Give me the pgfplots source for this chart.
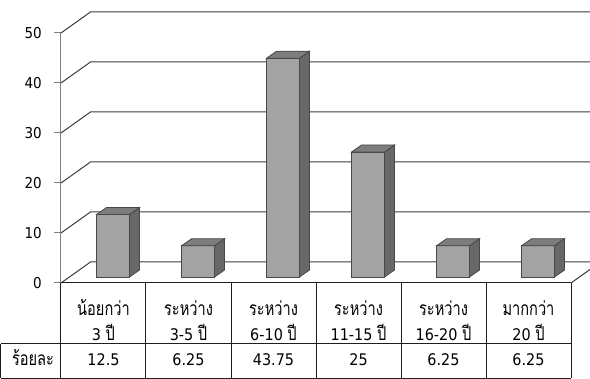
\documentclass[border=0pt]{standalone}
\usepackage{pgfplots}
\pgfplotsset{compat=1.18}
\usepackage{pgfplotstable}
\usepackage{fontspec}
\setmainfont{DejaVu Sans}[FakeStretch=0.9]
\newfontfamily\thai[Script=Thai, Scale=1.2, FakeStretch=0.76]{Loma}
\newcommand\tht[1]{{\thai #1}}

\definecolor{barfront}{RGB}{163,163,163}
\definecolor{barside}{RGB}{104,104,104}
\definecolor{bartop}{RGB}{125,125,125}
\definecolor{baredge}{RGB}{72,72,72}
\definecolor{gridc}{RGB}{60,60,60}
\definecolor{rulec}{RGB}{30,30,30}

% share of respondents by years of work
\pgfplotstableread{
idx v
0 12.5
1 6.25
2 43.75
3 25
4 6.25
5 6.25
}\share

% depth of the wall box and of each bar, in axis units
\def\wdx{0.347}\def\wdy{4.2}
\def\bdx{0.118}\def\bdy{1.4}

\newcommand\tkf{\fontsize{15}{18}\selectfont}
\newcommand\tbl{\fontsize{16}{25}\selectfont}
\newcommand\fl{\rule{0pt}{18pt}}

\begin{document}
\begin{tikzpicture}
\begin{axis}[
  x=85pt, y=5pt,
  xmin=-0.5, xmax=5.5, ymin=0, ymax=50,
  axis x line*=bottom,
  axis y line*=left,
  x axis line style={draw=none},
  y axis line style={draw=gray, line width=1pt},
  xtick={0,...,5},
  xticklabels={
    {\fl\tht{น้อยกว่า}\\3 \tht{ปี}},
    {\fl\tht{ระหว่าง}\\3-5 \tht{ปี}},
    {\fl\tht{ระหว่าง}\\6-10 \tht{ปี}},
    {\fl\tht{ระหว่าง}\\11-15 \tht{ปี}},
    {\fl\tht{ระหว่าง}\\16-20 \tht{ปี}},
    {\fl\tht{มากกว่า}\\20 \tht{ปี}}},
  xtick style={draw=none},
  xticklabel style={font=\tbl, align=center, anchor=north, inner sep=0pt, yshift=-7pt},
  ytick={0,10,...,50},
  tick align=outside,
  major tick length=7pt,
  ytick style={draw=gray, line width=1pt},
  yticklabel style={font=\tkf, text=black, inner sep=0pt, xshift=-12pt},
  /pgf/number format/assume math mode=true,
  clip=false,
]
% back and side walls with their grid lines
\pgfplotsinvokeforeach{0,10,...,50}{
  \draw[gridc, line width=1pt] (axis cs:-0.5,#1) -- (axis cs:-0.5+\wdx,#1+\wdy) -- (axis cs:5.5+\wdx,#1+\wdy);
}
\draw[gridc, line width=1pt] (axis cs:5.5,0) -- (axis cs:5.5+\wdx,\wdy);

% 3-D bars: front, side and top faces
\pgfplotsinvokeforeach{0,...,5}{
  \pgfplotstablegetelem{#1}{v}\of\share
  \pgfmathsetmacro\xa{#1-0.082}
  \pgfmathsetmacro\xb{#1+0.306}
  \pgfmathsetmacro\xc{\xb+\bdx}
  \pgfmathsetmacro\xd{\xa+\bdx}
  \pgfmathsetmacro\ya{1.2}
  \pgfmathsetmacro\yb{1.2+\bdy}
  \pgfmathsetmacro\yt{\pgfplotsretval+1.2}
  \pgfmathsetmacro\ytt{\yt+\bdy}
  \edef\drawbar{%
    \noexpand\addplot[fill=barfront, draw=baredge, line width=0.8pt] coordinates {(\xa,\ya) (\xb,\ya) (\xb,\yt) (\xa,\yt)} -- cycle;
    \noexpand\addplot[fill=barside, draw=baredge, line width=0.8pt] coordinates {(\xb,\ya) (\xc,\yb) (\xc,\ytt) (\xb,\yt)} -- cycle;
    \noexpand\addplot[fill=bartop, draw=baredge, line width=0.8pt] coordinates {(\xa,\yt) (\xb,\yt) (\xc,\ytt) (\xd,\ytt)} -- cycle;
  }\drawbar
}

% data table under the chart
\begin{scope}[rulec, line width=1pt]
\draw (axis cs:-0.5,0) -- (axis cs:5.5,0);
\draw (axis cs:-1.2059,-12.2) -- (axis cs:5.5,-12.2);
\draw (axis cs:-1.2059,-19) -- (axis cs:5.5,-19);
\draw (axis cs:-1.2059,-12.2) -- (axis cs:-1.2059,-19);
\end{scope}
\pgfplotsinvokeforeach{-0.5,0.5,...,5.5}{
  \draw[rulec, line width=1pt] (axis cs:#1,0) -- (axis cs:#1,-19);
}
\node[font=\tbl\thai, anchor=base, inner sep=0pt] at (axis cs:-0.829,-16.4) {ร้อยละ};

\addplot[draw=none, mark=none, nodes near coords, point meta=explicit,
  every node near coord/.append style={font=\tbl, anchor=base, inner sep=0pt, text=black}]
  table[x=idx, y expr=-16.4, meta=v] {\share};

\coordinate (pbl) at (axis cs:-1.2176,-19.2);
\coordinate (ptr) at (axis cs:5.7235,56.6);
\end{axis}
\pgfresetboundingbox
\useasboundingbox (pbl) rectangle (ptr);
\end{tikzpicture}
\end{document}
